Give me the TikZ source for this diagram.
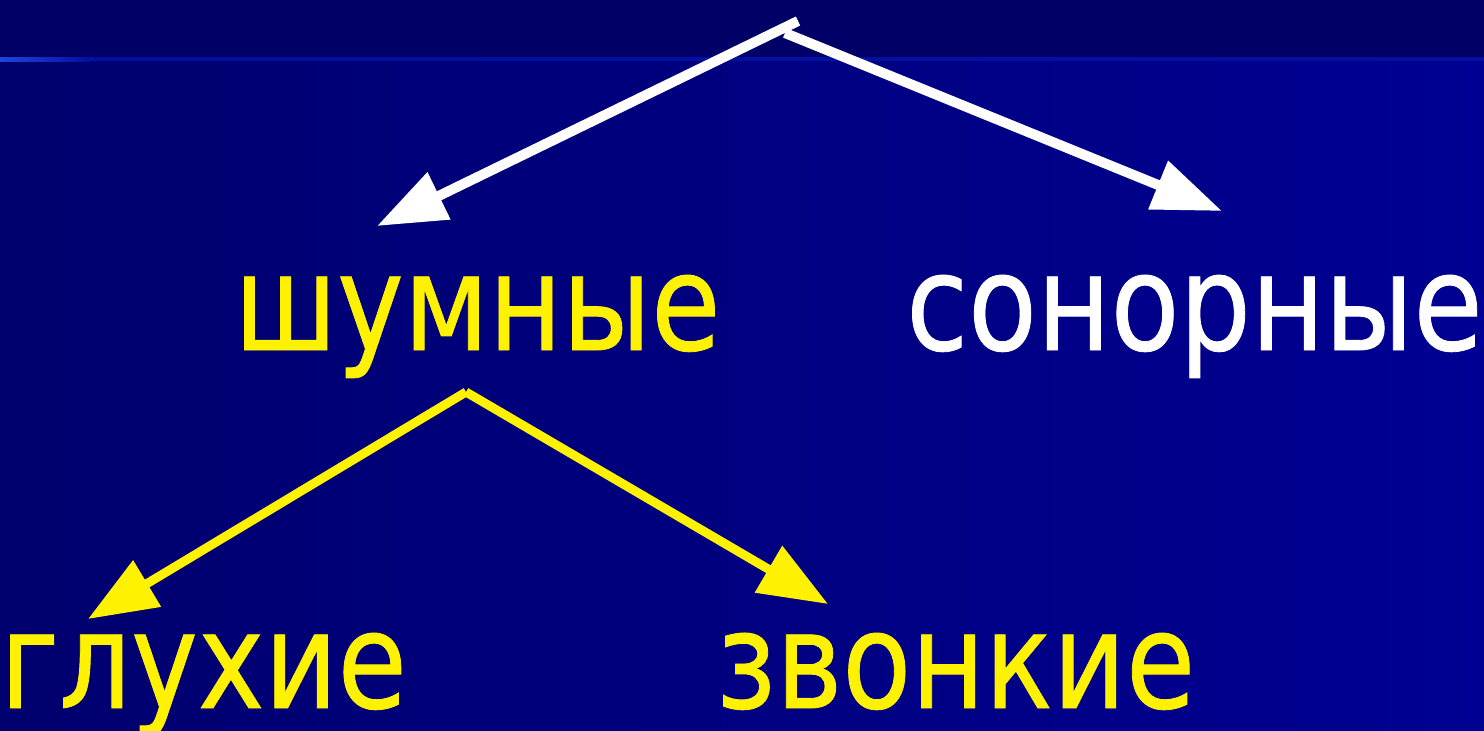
\documentclass[tikz,border=0pt]{standalone}
\usepackage{fontspec}
\setmainfont{DejaVu Sans}[FakeStretch=0.84, FakeBold=0.6]
\usetikzlibrary{arrows.meta, positioning, calc}

\definecolor{bandblue}{RGB}{0,0,102}
\definecolor{leftblue}{RGB}{0,0,110}
\definecolor{rightblue}{RGB}{0,0,146}
\definecolor{rulelight}{RGB}{30,70,220}
\definecolor{ruledark}{RGB}{4,14,160}

\begin{document}
\begin{tikzpicture}[x=1pt, y=-1pt,
    word/.style={inner sep=0pt, anchor=base west, font=\fontsize{134}{134}\selectfont},
    whitearrow/.style={white, line width=10pt, -{Triangle[length=69pt, width=50pt]}},
    yellowarrow/.style={yellow, line width=9pt, -{Triangle[length=69pt, width=52pt]}}]
    \useasboundingbox (0,0) rectangle (1484,731);

    % Background
    \shade[left color=leftblue, right color=rightblue] (0,58) rectangle (1484,731);
    \fill[bandblue] (0,0) rectangle (1484,58);
    \shade[left color=rulelight, right color=ruledark] (0,57) rectangle (90,61);
    \fill[ruledark] (90,57) rectangle (1484,61);

    % Words
    \node[word, text=yellow] (shumnye) at (234,350) {шумные};
    \node[word, text=white] (sonornye) at (906,350) {сонорные};
    \node[word, text=yellow] (gluhie) at (0,708) {глухие};
    \node[word, text=yellow] (zvonkie) at (716,708) {звонкие};

    % Arrow ends
    \coordinate (topL) at (798,21);
    \coordinate (topR) at (785,33);
    \coordinate (shumIn) at ($(shumnye.base west)+(143,-124)$);
    \coordinate (sonIn) at ($(sonornye.base west)+(316,-139)$);
    \coordinate (shumOut) at ($(shumnye.base west)+(232,42)$);
    \coordinate (gluhIn) at ($(gluhie.base west)+(88,-89)$);
    \coordinate (zvonIn) at ($(zvonkie.base west)+(112,-104)$);

    % Arrows
    \draw[whitearrow] (topL) -- (shumIn);
    \draw[whitearrow] (topR) -- (sonIn);
    \draw[yellowarrow] (shumOut) -- (gluhIn);
    \draw[yellowarrow] (shumOut) -- (zvonIn);
\end{tikzpicture}
\end{document}
